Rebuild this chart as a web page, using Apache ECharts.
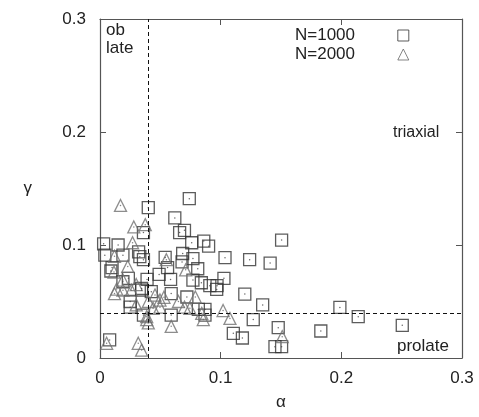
<!DOCTYPE html>
<html><head><meta charset="utf-8">
<script src="https://cdn.jsdelivr.net/npm/echarts@6/dist/echarts.min.js"></script>
<style>html,body{margin:0;padding:0;background:#fff}#c{width:479px;height:417px}</style>
</head><body><div id="c"></div>
<script>
const xTicks = [0, 0.1, 0.2, 0.3];
const yTicks = [0, 0.1, 0.2, 0.3];
const seriesNames = ['N=1000', 'N=2000'];
const alphaCut = 0.04;
const gammaCut = 0.04;
const n1000 = [[0.074,0.141],[0.040,0.133],[0.062,0.124],[0.066,0.111],[0.070,0.113],[0.036,0.111],[0.015,0.100],[0.003,0.101],[0.004,0.091],[0.032,0.094],[0.036,0.087],[0.019,0.091],[0.054,0.089],[0.056,0.080],[0.0685,0.0925],[0.077,0.088],[0.068,0.085],[0.081,0.079],[0.076,0.102],[0.086,0.1035],[0.090,0.099],[0.009,0.077],[0.049,0.074],[0.0585,0.0695],[0.019,0.0675],[0.039,0.0695],[0.0235,0.0705],[0.0345,0.060],[0.0425,0.0587],[0.072,0.054],[0.077,0.069],[0.084,0.0666],[0.091,0.064],[0.097,0.064],[0.059,0.057],[0.025,0.050],[0.025,0.045],[0.059,0.038],[0.0815,0.043],[0.087,0.043],[0.036,0.038],[0.087,0.038],[0.008,0.016],[0.1505,0.1044],[0.1036,0.0888],[0.124,0.087],[0.141,0.084],[0.1027,0.0705],[0.0967,0.0607],[0.120,0.0566],[0.1348,0.047],[0.127,0.034],[0.1105,0.0218],[0.118,0.0177],[0.1477,0.0268],[0.145,0.010],[0.1505,0.010],[0.1988,0.0448],[0.214,0.0366],[0.183,0.0239],[0.2505,0.0289],[0.033,0.0897],[0.010,0.080],[0.0345,0.0615]];
const n2000 = [[0.017,0.135],[0.028,0.116],[0.0375,0.118],[0.027,0.102],[0.012,0.090],[0.023,0.081],[0.055,0.087],[0.071,0.078],[0.0116,0.076],[0.019,0.069],[0.0138,0.061],[0.019,0.060],[0.026,0.060],[0.030,0.065],[0.0456,0.0557],[0.0497,0.0513],[0.053,0.0537],[0.079,0.054],[0.030,0.047],[0.044,0.044],[0.0497,0.045],[0.070,0.045],[0.0745,0.044],[0.0387,0.0366],[0.040,0.031],[0.0387,0.034],[0.059,0.028],[0.0856,0.034],[0.0843,0.0395],[0.0055,0.013],[0.0317,0.013],[0.0345,0.007],[0.102,0.042],[0.1077,0.035],[0.151,0.0189],[0.065,0.050],[0.040,0.050],[0.012,0.057]];

const font = 'Liberation Sans, Arial, sans-serif';
const chart = echarts.init(document.getElementById('c'), null, {renderer:'canvas'});
const baseAxis = {
  min: 0, max: 0.3, interval: 0.1,
  axisLine: {show: true, onZero: false, lineStyle: {color: '#555', width: 1.2}},
  axisTick: {show: true, inside: true, length: 6, lineStyle: {color: '#555'}},
  splitLine: {show: false}
};
const fmt = ticks => v => { const t = ticks.find(x => Math.abs(x - v) < 1e-9); return t === undefined ? '' : String(t); };
const pad = '\u00a0'.repeat(8);
chart.setOption({
  animation: false,
  grid: {left: 100, right: 17, top: 19, bottom: 59},
  legend: {
    orient: 'vertical', left: 290, top: 22, align: 'right', itemGap: 2,
    itemWidth: 11, itemHeight: 11,
    formatter: name => name + pad,
    textStyle: {fontFamily: font, fontSize: 17, color: '#222'},
    data: [
      {name: seriesNames[0], icon: 'rect', itemStyle: {color: 'transparent', borderColor: '#333', borderWidth: 1}},
      {name: seriesNames[1], icon: 'triangle', itemStyle: {color: 'transparent', borderColor: '#666', borderWidth: 1}}
    ]
  },
  xAxis: [
    Object.assign({}, baseAxis, {type: 'value', position: 'bottom',
      name: 'α', nameLocation: 'middle', nameGap: 36,
      nameTextStyle: {fontFamily: font, fontSize: 17, color: '#222'},
      axisLabel: {fontFamily: font, fontSize: 17, color: '#222', margin: 12, formatter: fmt(xTicks)}}),
    Object.assign({}, baseAxis, {type: 'value', position: 'top', axisLabel: {show: false}})
  ],
  yAxis: [
    Object.assign({}, baseAxis, {type: 'value', position: 'left',
      name: 'γ', nameLocation: 'middle', nameGap: 68, nameRotate: 0,
      nameTextStyle: {fontFamily: font, fontSize: 17, color: '#222'},
      axisLabel: {fontFamily: font, fontSize: 17, color: '#222', margin: 14, formatter: fmt(yTicks)}}),
    Object.assign({}, baseAxis, {type: 'value', position: 'right', axisLabel: {show: false}})
  ],
  series: [
    {
      name: seriesNames[0], type: 'scatter', data: n1000, symbol: 'rect', symbolSize: 12,
      itemStyle: {color: 'transparent', borderColor: '#333', borderWidth: 1.3}, z: 3,
      markLine: {
        silent: true, symbol: 'none', label: {show: false},
        lineStyle: {color: '#111', type: [4, 3], width: 1},
        data: [{xAxis: alphaCut}, {yAxis: gammaCut}]
      }
    },
    {
      name: seriesNames[1], type: 'scatter', data: n2000, symbol: 'triangle', symbolSize: 12,
      itemStyle: {color: 'transparent', borderColor: '#707070', borderWidth: 1.3}, z: 4
    },
    {
      name: 'dots1', type: 'scatter', data: n1000, symbol: 'circle', symbolSize: 1.5,
      itemStyle: {color: '#444'}, silent: true, z: 5
    },
    {
      name: 'dots2', type: 'scatter', data: n2000, symbol: 'circle', symbolSize: 1.5,
      itemStyle: {color: '#666'}, silent: true, z: 5
    }
  ],
  graphic: [
    {type: 'text', left: 106, top: 22, style: {text: 'ob', font: '17px ' + font, fill: '#222'}},
    {type: 'text', left: 106, top: 40, style: {text: 'late', font: '17px ' + font, fill: '#222'}},
    {type: 'text', left: 393, top: 125, style: {text: 'triaxial', font: '16px ' + font, fill: '#222'}},
    {type: 'text', left: 397, top: 338, style: {text: 'prolate', font: '17px ' + font, fill: '#222'}}
  ]
});
</script></body></html>
